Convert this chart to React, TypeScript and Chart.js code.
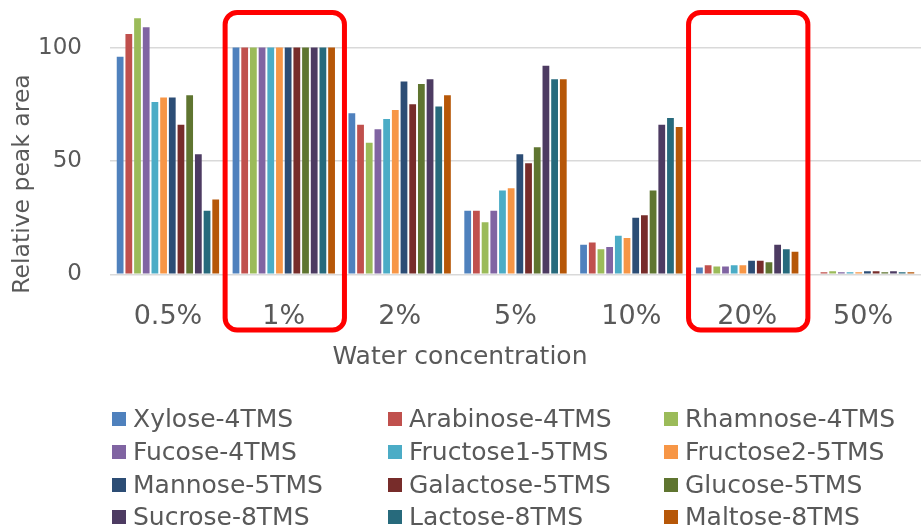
import { useEffect, useRef } from 'react';
import { Chart, registerables } from 'chart.js';

Chart.register(...registerables);

const categories = ['0.5%', '1%', '2%', '5%', '10%', '20%', '50%'];
const seriesNames = [
  'Xylose-4TMS', 'Arabinose-4TMS', 'Rhamnose-4TMS',
  'Fucose-4TMS', 'Fructose1-5TMS', 'Fructose2-5TMS',
  'Mannose-5TMS', 'Galactose-5TMS', 'Glucose-5TMS',
  'Sucrose-8TMS', 'Lactose-8TMS', 'Maltose-8TMS',
];
const xylose = [96, 100, 71, 28, 13, 3, 0.4];
const arabinose = [106, 100, 66, 28, 14, 4, 0.9];
const rhamnose = [113, 100, 58, 23, 11, 3.4, 1.4];
const fucose = [109, 100, 64, 28, 12, 3.4, 0.9];
const fructose1 = [76, 100, 68.5, 37, 17, 4, 0.9];
const fructose2 = [78, 100, 72.5, 38, 16, 4, 0.9];
const mannose = [78, 100, 85, 53, 25, 6, 1.4];
const galactose = [66, 100, 75, 49, 26, 6, 1.4];
const glucose = [79, 100, 84, 56, 37, 5.3, 0.9];
const sucrose = [53, 100, 86, 92, 66, 13, 1.4];
const lactose = [28, 100, 74, 86, 69, 11, 0.9];
const maltose = [33, 100, 79, 86, 65, 10, 0.9];
const seriesValues = [
  xylose, arabinose, rhamnose, fucose, fructose1, fructose2,
  mannose, galactose, glucose, sucrose, lactose, maltose,
];
const colors = [
  '#4F81BD', '#C0504D', '#9BBB59', '#8064A2', '#4BACC6', '#F79646',
  '#2C4D75', '#772C2A', '#5F7530', '#4D3B62', '#276A7C', '#B65708',
];
const yTicks = [0, 50, 100];
const highlighted = [1, 5];
const yTitle = 'Relative peak area';
const xTitle = 'Water concentration';

const FONT = "'DejaVu Sans', sans-serif";
const TEXT = '#595959';

const overlay = {
  id: 'overlay',
  afterDraw(chart: any) {
    const ctx = chart.ctx;
    const x = chart.scales.x;
    ctx.save();
    // red highlight boxes
    const cw = (x.right - x.left) / categories.length;
    ctx.strokeStyle = '#FF0000';
    ctx.lineWidth = 5;
    highlighted.forEach((i) => {
      const cx = x.getPixelForValue(i) + 1;
      const hw = cw * 0.515;
      const top = 12.5;
      const bottom = 330;
      ctx.beginPath();
      ctx.roundRect(cx - hw, top, hw * 2, bottom - top, 12);
      ctx.stroke();
    });
    // axis titles
    ctx.fillStyle = TEXT;
    ctx.font = `23.5px ${FONT}`;
    ctx.textAlign = 'center';
    ctx.textBaseline = 'middle';
    ctx.save();
    ctx.translate(23, 184);
    ctx.rotate(-Math.PI / 2);
    ctx.fillText(yTitle, 0, 0);
    ctx.restore();
    ctx.font = `25px ${FONT}`;
    ctx.fillText(xTitle, 460, 357);
    // legend
    const colX = [112, 388, 664];
    const rowY = [419, 452, 485, 517];
    ctx.font = `25px ${FONT}`;
    ctx.textAlign = 'left';
    chart.data.datasets.forEach((ds: any, i: number) => {
      const cxp = colX[i % 3];
      const cyp = rowY[Math.floor(i / 3)];
      ctx.fillStyle = ds.backgroundColor;
      ctx.fillRect(cxp, cyp - 7, 14, 14);
      ctx.fillStyle = TEXT;
      ctx.fillText(ds.label, cxp + 21, cyp + 1);
    });
    ctx.restore();
  },
};

export default function App() {
  const ref = useRef<HTMLCanvasElement>(null);
  useEffect(() => {
    if (!ref.current) return;
    const chart = new Chart(ref.current, {
      type: 'bar',
      data: {
        labels: categories,
        datasets: seriesNames.map((name, i) => ({
          label: name,
          data: seriesValues[i],
          backgroundColor: colors[i],
          borderWidth: 0,
          categoryPercentage: 0.9,
          barPercentage: 0.78,
        })),
      },
      options: {
        animation: false,
        responsive: false,
        devicePixelRatio: 1,
        layout: { padding: { left: 0, right: 0, top: 0, bottom: 0 } },
        plugins: { legend: { display: false }, tooltip: { enabled: false } },
        scales: {
          x: {
            grid: { display: false },
            border: { display: false },
            ticks: {
              color: TEXT,
              font: { family: FONT, size: 27 },
              padding: 18,
              maxRotation: 0,
            },
            afterFit: (s: any) => {
              s.height = 528 - 274.3;
              s.paddingLeft = 0;
              s.paddingRight = 0;
            },
          },
          y: {
            min: 0,
            max: 121,
            grid: { color: '#D9D9D9', lineWidth: 1.5, drawTicks: false },
            border: { display: false },
            ticks: {
              color: TEXT,
              font: { family: FONT, size: 23 },
              padding: 28,
            },
            afterBuildTicks: (s: any) => { s.ticks = yTicks.map((v) => ({ value: v })); },
            afterFit: (s: any) => {
              s.width = 110;
              s.paddingTop = 0;
              s.paddingBottom = 0;
            },
          },
        },
      },
      plugins: [overlay],
    });
    return () => chart.destroy();
  }, []);
  return (
    <div style={{ position: 'fixed', left: 0, top: 0, width: 921, height: 528, background: '#fff' }}>
      <canvas ref={ref} width={921} height={528} />
    </div>
  );
}
